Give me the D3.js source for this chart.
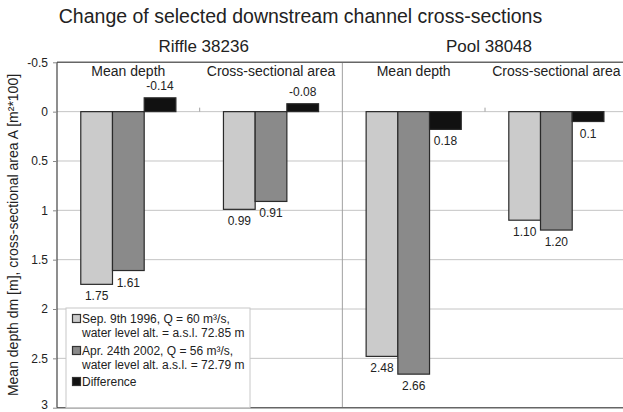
<!DOCTYPE html>
<html>
<head>
<meta charset="utf-8">
<script src="https://cdn.jsdelivr.net/npm/d3@7"></script>
<style>
  html, body { margin: 0; padding: 0; background: #fff; }
  svg { display: block; font-family: "Liberation Sans", Arial, sans-serif; }
</style>
</head>
<body>
<svg id="chart" width="623" height="412"></svg>
<script>
// Cross-section sites and the two measures shown for each
const sites = ["Riffle 38236", "Pool 38048"];
const measures = ["Mean depth", "Cross-sectional area"];

// One value per site/measure group, in order:
// Riffle depth, Riffle area, Pool depth, Pool area
const sep1996 = [1.75, 0.99, 2.48, 1.10];
const apr2002 = [1.61, 0.91, 2.66, 1.20];
const difference = [-0.14, -0.08, 0.18, 0.1];

const seriesNames = [
  ["Sep. 9th 1996, Q = 60 m\u00b3/s,", "water level alt. = a.s.l. 72.85 m"],
  ["Apr. 24th 2002, Q = 56 m\u00b3/s,", "water level alt. a.s.l. = 72.79 m"],
  ["Difference"]
];
const seriesColors = ["#cbcbcb", "#8a8a8a", "#111111"];

const yTicks = [-0.5, 0, 0.5, 1, 1.5, 2, 2.5, 3];

const title = "Change of selected downstream channel cross-sections";
const yTitle = "Mean depth dm [m], cross-sectional area A [m\u00b2*100]";

// ---- layout ----
const svg = d3.select("#chart");
const plot = { left: 57, right: 627.7, top: 62.3, bottom: 407.7 };

const groups = [];
sites.forEach(s => measures.forEach(m => groups.push(s + "|" + m)));

const x0 = d3.scaleBand()
  .domain(groups)
  .range([plot.left, plot.right])
  .paddingInner(1 / 3)
  .paddingOuter(1 / 6);

const seriesKeys = ["sep1996", "apr2002", "difference"];
const x1 = d3.scaleBand().domain(seriesKeys).range([0, x0.bandwidth()]);

const y = d3.scaleLinear().domain([-0.5, 3]).range([plot.top, plot.bottom]);

const data = groups.map((g, i) => ({
  group: g,
  values: [
    { key: "sep1996", v: sep1996[i], label: sep1996[i].toFixed(2) },
    { key: "apr2002", v: apr2002[i], label: apr2002[i].toFixed(2) },
    { key: "difference", v: difference[i], label: String(difference[i]) }
  ]
}));

// horizontal grid lines
svg.append("g")
  .selectAll("line")
  .data(yTicks.filter(t => t > -0.5 && t < 3))
  .join("line")
  .attr("x1", plot.left).attr("x2", plot.right)
  .attr("y1", d => y(d)).attr("y2", d => y(d))
  .attr("stroke", "#c4c4c4").attr("stroke-width", 1);

// divider between the two sites
const step = x0.step();
const siteBoundary = plot.left + 2 * step;
svg.append("line")
  .attr("x1", siteBoundary).attr("x2", siteBoundary)
  .attr("y1", plot.top).attr("y2", plot.bottom)
  .attr("stroke", "#a0a0a0").attr("stroke-width", 1);

// small category ticks on the zero line
svg.append("g")
  .selectAll("line")
  .data([1, 3])
  .join("line")
  .attr("x1", i => plot.left + i * step).attr("x2", i => plot.left + i * step)
  .attr("y1", y(0) - 4).attr("y2", y(0))
  .attr("stroke", "#a0a0a0");

// bars
const gGroups = svg.append("g")
  .selectAll("g")
  .data(data)
  .join("g")
  .attr("transform", d => `translate(${x0(d.group)},0)`);

gGroups.selectAll("rect")
  .data(d => d.values)
  .join("rect")
  .attr("x", d => x1(d.key))
  .attr("width", x1.bandwidth())
  .attr("y", d => Math.min(y(0), y(d.v)))
  .attr("height", d => Math.abs(y(d.v) - y(0)))
  .attr("fill", (d, i) => seriesColors[i])
  .attr("stroke", "#2a2a2a")
  .attr("stroke-width", 1.2);

// value labels
gGroups.selectAll("text")
  .data(d => d.values)
  .join("text")
  .attr("x", d => x1(d.key) + x1.bandwidth() / 2)
  .attr("y", d => d.v < 0 ? y(d.v) - 8 : y(d.v) + 16)
  .attr("text-anchor", "middle")
  .attr("font-size", 12)
  .attr("fill", "#222")
  .text(d => d.label);

// plot frame
svg.append("line").attr("x1", plot.left).attr("x2", plot.right)
  .attr("y1", plot.top).attr("y2", plot.top)
  .attr("stroke", "#666").attr("stroke-width", 1.6);
svg.append("line").attr("x1", plot.left).attr("x2", plot.right)
  .attr("y1", plot.bottom).attr("y2", plot.bottom)
  .attr("stroke", "#666").attr("stroke-width", 1.6);
svg.append("line").attr("x1", plot.left).attr("x2", plot.left)
  .attr("y1", plot.top).attr("y2", plot.bottom)
  .attr("stroke", "#444").attr("stroke-width", 1.2);

// y axis
const yAxis = d3.axisLeft(y)
  .tickValues(yTicks)
  .tickSize(4)
  .tickPadding(5)
  .tickFormat(d => String(d));
const gy = svg.append("g")
  .attr("transform", `translate(${plot.left},0)`)
  .call(yAxis);
gy.select(".domain").remove();
gy.selectAll(".tick line").attr("stroke", "#888");
gy.selectAll(".tick text")
  .attr("font-size", 12)
  .attr("font-family", "Liberation Sans, Arial, sans-serif")
  .attr("fill", "#222");
// keep the bottom label inside the page
gy.selectAll(".tick text").filter(d => d === 3).attr("dy", "0.05em");

// y axis title
svg.append("text")
  .attr("transform", `translate(18,${(plot.top + plot.bottom) / 2 + 0}) rotate(-90)`)
  .attr("text-anchor", "middle")
  .attr("font-size", 14)
  .attr("fill", "#222")
  .text(yTitle);

// chart title
svg.append("text")
  .attr("x", 300.5).attr("y", 22.5)
  .attr("text-anchor", "middle")
  .attr("font-size", 19.5)
  .attr("fill", "#222")
  .text(title);

// site headings
svg.append("g")
  .selectAll("text")
  .data(sites)
  .join("text")
  .attr("x", (d, i) => plot.left + (2 * i + 1) * step + 4)
  .attr("y", 52)
  .attr("text-anchor", "middle")
  .attr("font-size", 17)
  .attr("fill", "#222")
  .text(d => d);

// measure headings inside the plot
svg.append("g")
  .selectAll("text")
  .data(groups)
  .join("text")
  .attr("x", d => x0(d) + x0.bandwidth() / 2)
  .attr("y", 76)
  .attr("text-anchor", "middle")
  .attr("font-size", 14)
  .attr("fill", "#222")
  .text(d => d.split("|")[1]);

// legend
const legend = svg.append("g").attr("transform", "translate(66,308)");
legend.append("rect")
  .attr("x", 0).attr("y", 0)
  .attr("width", 184).attr("height", plot.bottom - 308)
  .attr("fill", "#fff").attr("stroke", "#c8c8c8");

const lineStarts = [15, 47, 78];
seriesNames.forEach((lines, i) => {
  const g = legend.append("g").attr("transform", `translate(0,${lineStarts[i]})`);
  g.append("rect")
    .attr("x", 6.5).attr("y", -8.5)
    .attr("width", 8).attr("height", 8)
    .attr("fill", seriesColors[i]).attr("stroke", "#333").attr("stroke-width", 1.2);
  lines.forEach((t, j) => {
    g.append("text")
      .attr("x", 16).attr("y", j * 14)
      .attr("font-size", 12)
      .attr("fill", "#222")
      .text(t);
  });
});
</script>
</body>
</html>
